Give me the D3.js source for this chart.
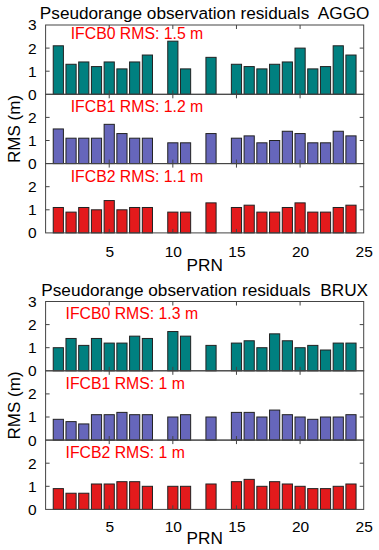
<!DOCTYPE html>
<html><head><meta charset="utf-8">
<script src="https://cdn.jsdelivr.net/npm/d3@7"></script>
<style>body{margin:0;background:#fff}svg{display:block}text{font-family:"Liberation Sans",Arial,sans-serif}</style>
</head><body>
<svg id="c" width="379" height="550"></svg>
<script>
const prn = [1,2,3,4,5,6,7,8,10,11,13,15,16,17,18,19,20,21,22,23,24];
const xTicks = [5,10,15,20,25];
const yTicksTop = [0,1,2,3];
const yTicksLow = [0,1,2];
const stations = ["AGGO","BRUX"];
const seriesNames = ["IFCB0","IFCB1","IFCB2"];
const rmsAGGO = ["1.5","1.2","1.1"];
const rmsBRUX = ["1.3","1","1"];
const aggo0 = [2.1,1.3,1.4,1.2,1.4,1.1,1.4,1.7,2.3,1.1,1.6,1.3,1.2,1.1,1.3,1.4,2.0,1.1,1.2,2.1,1.7];
const aggo1 = [1.5,1.1,1.1,1.1,1.7,1.3,1.1,1.1,0.9,0.9,1.3,1.1,1.2,0.9,1.0,1.4,1.3,0.9,0.9,1.4,1.2];
const aggo2 = [1.1,0.9,1.1,1.0,1.4,1.0,1.1,1.1,0.9,0.9,1.3,1.1,1.2,0.9,0.9,1.1,1.3,0.9,0.9,1.1,1.2];
const brux0 = [1.0,1.4,1.1,1.4,1.2,1.2,1.5,1.4,1.7,1.5,1.1,1.2,1.3,1.0,1.6,1.3,1.0,1.1,0.9,1.2,1.2];
const brux1 = [0.9,0.8,0.7,1.1,1.1,1.2,1.1,1.1,1.0,1.1,1.0,1.2,1.2,1.0,1.3,1.1,1.0,0.9,1.0,1.0,1.1];
const brux2 = [0.9,0.7,0.7,1.1,1.1,1.2,1.2,1.0,1.0,1.0,1.1,1.2,1.3,1.0,1.2,1.1,1.0,0.9,0.9,1.0,1.1];

const colors = ["#008080","#6666bb","#e31a1c"];
const svg = d3.select("#c");
const L = 45.6, R = 363.7, PH = 69.3;
const x = d3.scaleLinear().domain([0,25]).range([L,R]);
const charts = [
  {station: stations[0], rms: rmsAGGO, vals:[aggo0,aggo1,aggo2], top:25, titleY:18.5, annX:70.7, annDy:[8,12.4,13.1], tickPad:13.5, prnDy:38.5},
  {station: stations[1], rms: rmsBRUX, vals:[brux0,brux1,brux2], top:301.5, titleY:296, annX:65.5, annDy:[11.8,12.5,12], tickPad:11.5, prnDy:34.6}
];
const bw = x(0.8)-x(0);
const styleTicks = a=>{a.select(".domain").remove();a.selectAll("text").attr("font-size",15.5).attr("fill","#000").attr("font-family","Liberation Sans, Arial, sans-serif");};
charts.forEach(ch=>{
  svg.append("text").attr("x",(L+R)/2).attr("y",ch.titleY).attr("text-anchor","middle")
    .style("white-space","pre").attr("xml:space","preserve")
    .attr("font-size",17.2).attr("fill","#000").text("Pseudorange observation residuals  "+ch.station);
  ch.vals.forEach((v,pi)=>{
    const t = ch.top + pi*PH, b = t+PH;
    const y = d3.scaleLinear().domain([0,3]).range([b,t]);
    const g = svg.append("g");
    g.selectAll("rect.bar").data(v).join("rect")
      .attr("x",(d,i)=>x(prn[i])-bw/2).attr("width",bw)
      .attr("y",d=>y(d)).attr("height",d=>y(0)-y(d))
      .attr("fill",colors[pi]).attr("stroke","#222").attr("stroke-width",1);
    const yt = pi===0?yTicksTop:yTicksLow;
    g.append("g").attr("transform",`translate(${L},0)`)
      .call(d3.axisLeft(y).tickValues(yt).tickSize(0).tickPadding(9).tickFormat(d3.format("d")))
      .call(styleTicks);
    const tk = g.append("g").attr("stroke","#444").attr("stroke-width",1);
    [1,2].forEach(vv=>{
      tk.append("line").attr("x1",L).attr("x2",L+4).attr("y1",y(vv)).attr("y2",y(vv));
      tk.append("line").attr("x1",R).attr("x2",R-4).attr("y1",y(vv)).attr("y2",y(vv));
    });
    xTicks.slice(0,4).forEach(vv=>{
      tk.append("line").attr("x1",x(vv)).attr("x2",x(vv)).attr("y1",t).attr("y2",t+4);
      tk.append("line").attr("x1",x(vv)).attr("x2",x(vv)).attr("y1",b).attr("y2",b-4);
    });
    g.append("rect").attr("x",L).attr("y",t).attr("width",R-L).attr("height",PH)
      .attr("fill","none").attr("stroke","#444").attr("stroke-width",1);
    g.append("text").attr("x",ch.annX).attr("y",t+ch.annDy[pi]+5.5).attr("font-size",15.8)
      .attr("fill","#ff0000").text(seriesNames[pi]+" RMS: "+ch.rms[pi]+" m");
    if(pi===2){
      g.append("g").attr("transform",`translate(0,${b})`)
        .call(d3.axisBottom(x).tickValues(xTicks).tickSize(0).tickPadding(ch.tickPad))
        .call(styleTicks);
      svg.append("text").attr("x",(L+R)/2).attr("y",b+ch.prnDy).attr("text-anchor","middle")
        .attr("font-size",17.2).attr("fill","#000").text("PRN");
    }
    if(pi===1){
      svg.append("text").attr("transform",`translate(20,${(t+b)/2}) rotate(-90)`)
        .attr("text-anchor","middle").attr("font-size",17).attr("fill","#000").text("RMS (m)");
    }
  });
});
</script>
</body></html>
